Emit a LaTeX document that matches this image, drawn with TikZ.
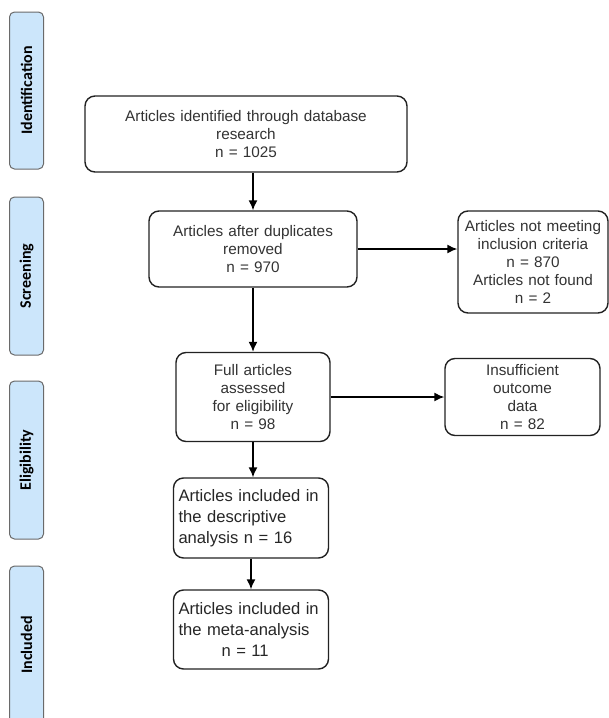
\documentclass[tikz,border=0pt]{standalone}
\usepackage{fontspec}
\setmainfont{Liberation Sans}
\newfontfamily\barfont{Carlito}
\usetikzlibrary{arrows.meta}
\definecolor{barfill}{HTML}{CCE6FB}
\definecolor{bardraw}{HTML}{6A6A6A}
\definecolor{boxdraw}{HTML}{222222}
\definecolor{txt}{HTML}{333333}
\tikzset{
  phase/.style={draw=bardraw, line width=1pt, fill=barfill, rounded corners=5pt},
  phasetext/.style={rotate=90, font=\barfont\bfseries\fontsize{16}{19}\selectfont, text=black},
  flowbox/.style={draw=boxdraw, line width=1.4pt, rounded corners=10pt, fill=white,
    text=txt, font=\fontsize{15.3}{18}\selectfont, align=center, inner sep=3pt},
  bigbox/.style={draw=boxdraw, line width=1.4pt, rounded corners=10pt, fill=white,
    text=black!85, font=\fontsize{16.6}{21}\selectfont, align=left, inner xsep=5pt, inner ysep=6pt},
  flowarrow/.style={draw=black, line width=1.5pt, -{Latex[length=10pt,width=9pt]}}
}
\begin{document}
\begin{tikzpicture}[x=1pt,y=-1pt]
\useasboundingbox (0,0) rectangle (609,718);
\clip (0,0) rectangle (609,718);
% phase bars
\draw[phase] (9.5,12) rectangle (43.5,169);
\node[phasetext] (pid) at (26.5,90.5) {Identification};
\draw[phase] (9.5,197) rectangle (43.5,355);
\node[phasetext] (psc) at (26.5,276) {Screening};
\draw[phase] (9.5,381) rectangle (43.5,539);
\node[phasetext] (pel) at (26.5,460) {Eligibility};
\draw[phase] (9.5,566) rectangle (43.5,724);
\node[phasetext] (pin) at (26.5,645) {Included};
% flow boxes
\node[flowbox, minimum width=322pt, minimum height=76pt, text width=312pt] (b1) at (246,134)
  {Articles identified through database\\research\\n = 1025};
\node[flowbox, minimum width=208pt, minimum height=76pt, text width=198pt] (b2) at (253,249)
  {Articles after duplicates\\removed\\n = 970};
\node[flowbox, minimum width=150pt, minimum height=102pt, text width=144pt, inner sep=2pt] (b3) at (533,262)
  {Articles not meeting\\inclusion criteria\\n = 870\\Articles not found\\n = 2};
\node[flowbox, minimum width=154pt, minimum height=89pt, text width=144pt] (b4) at (253,397)
  {Full articles\\assessed\\for eligibility\\n = 98};
\node[flowbox, minimum width=155pt, minimum height=77pt, text width=145pt] (b5) at (522.5,397)
  {Insufficient\\outcome\\data\\n = 82};
\node[bigbox, minimum width=155pt, minimum height=80pt, text width=145pt] (b6) at (251,518)
  {Articles included in\\the descriptive\\analysis n = 16};
\node[bigbox, minimum width=155pt, minimum height=79pt, text width=145pt] (b7) at (251,629.5)
  {Articles included in\\the meta-analysis\\\hspace*{43pt}n = 11};
% connectors
\draw[flowarrow] (b1.south -| b2.north) -- (b2.north);
\draw[flowarrow] (b2.east) -- (b3.west |- b2.east);
\draw[flowarrow] (b2.south) -- (b4.north);
\draw[flowarrow] (b4.east) -- (b5.west);
\draw[flowarrow] (b4.south) -- (b4.south |- b6.north);
\draw[flowarrow] (b6.south) -- (b7.north);
\end{tikzpicture}
\end{document}
